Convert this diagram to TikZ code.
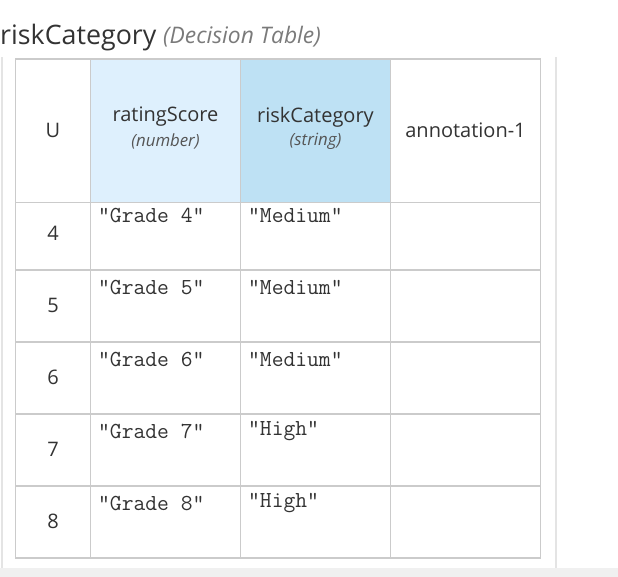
\documentclass[tikz,border=0pt]{standalone}
\usepackage{fontspec}
\setmainfont{Open Sans}
\definecolor{gridc}{HTML}{CBCBCB}
\definecolor{txt}{HTML}{333333}
\definecolor{subtxt}{HTML}{555555}
\definecolor{titlesub}{HTML}{7A7A7A}
\definecolor{inblue}{HTML}{DEF0FD}
\definecolor{outblue}{HTML}{BEE1F4}
\definecolor{sidel}{HTML}{E4E4E4}
\definecolor{band}{HTML}{F0F0F0}
\tikzset{
  hdr/.style={font=\fontsize{20}{24}\selectfont, text=txt, inner sep=0pt, align=center},
  hsub/.style={font=\fontsize{16.8}{20}\itshape, text=subtxt, inner sep=0pt},
  numc/.style={font=\fontsize{20}{24}\selectfont, text=txt, inner sep=0pt},
  mono/.style={font=\fontsize{22.9}{26}\ttfamily, text=txt, inner sep=0pt, anchor=west},
  grid/.style={draw=gridc, line width=1.5pt},
}
\begin{document}
\begin{tikzpicture}[x=1pt,y=-1pt]
\useasboundingbox (0,0) rectangle (618,577);
% side lines and band
\fill[band] (0,568) rectangle (618,577);
\draw[sidel, line width=2pt] (2,57) -- (2,568);
\draw[sidel, line width=2pt] (555.5,57) -- (555.5,568);
% title
\node[anchor=base west, inner sep=0pt, font=\fontsize{26.8}{30}\selectfont, text=txt] (title) at (0,45) {riskCategory};
\node[anchor=base west, inner sep=0pt, font=\fontsize{22.8}{26}\itshape, text=titlesub] (ttype) at (163,44) {(Decision Table)};
% header fills
\fill[inblue] (90.5,59) rectangle (240.5,202.5);
\fill[outblue] (240.5,59) rectangle (390.5,202.5);
% grid
\foreach \y in {202.5,270,342,414,486} \draw[grid] (15.5,\y) -- (540.5,\y);
\foreach \x in {90.5,240.5,390.5} \draw[grid] (\x,59) -- (\x,558);
\draw[grid] (15.5,59) rectangle (540.5,558);
% header texts
\node[hdr] (hu) at (53,130) {U};
\node[hdr] (hin) at (165.5,117) {ratingScore};
\node[hsub] (hint) at (165.5,141) {(number)};
\node[hdr] (hout) at (315.5,117) {riskCategory};
\node[hsub] (houtt) at (315.5,141) {(string)};
\node[hdr] (hann) at (465.5,130) {annotation-1};
% rows
\foreach \n/\k/\g/\r in {4/0/Grade 4/Medium, 5/1/Grade 5/Medium, 6/2/Grade 6/Medium, 7/3/Grade 7/High, 8/4/Grade 8/High}{
  \node[numc] (r\n) at (53,233+72*\k) {\n};
  \node[mono] (in\n) at (98,215.5+72*\k) {"\g"};
  \node[mono] (out\n) at (248,215.5+72*\k) {"\r"};
}
\end{tikzpicture}
\end{document}
